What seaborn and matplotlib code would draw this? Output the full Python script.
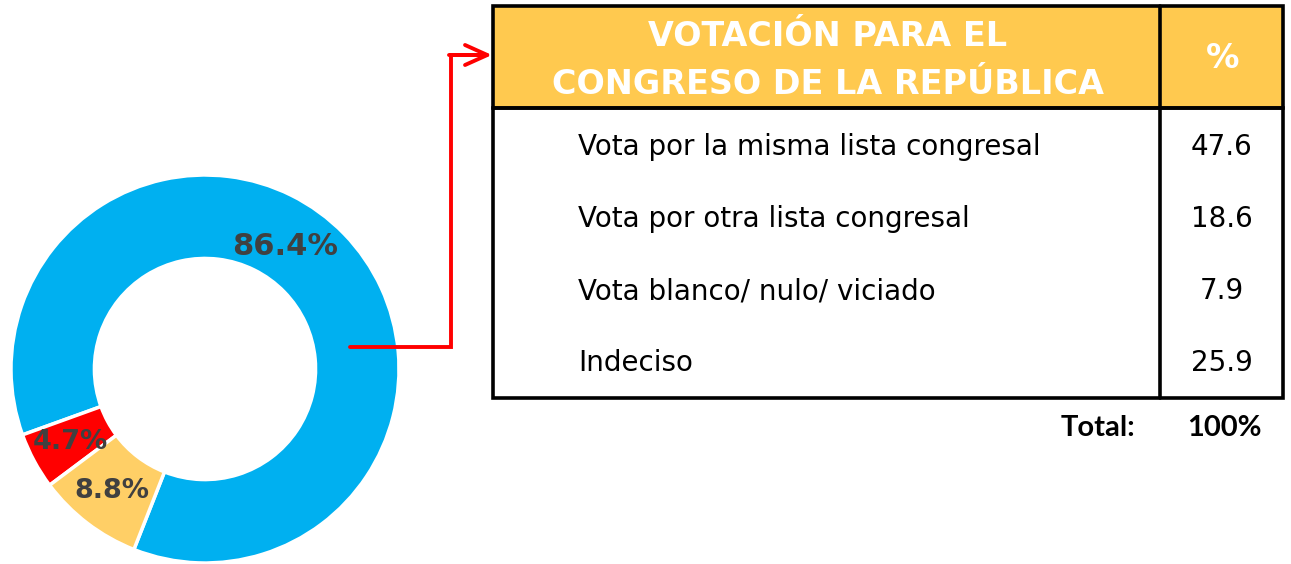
import matplotlib
matplotlib.use("Agg")
import matplotlib.pyplot as plt
import seaborn as sns
from matplotlib.patches import Rectangle
import numpy as np

sns.set_theme(style="white")

# --- data -------------------------------------------------------------
slice_values = [86.4, 4.7, 8.8]
slice_colors = ["#00B0F0", "#FF0000", "#FFCF66"]

header_lines = ["VOTACIÓN PARA EL", "CONGRESO DE LA REPÚBLICA"]
header_pct = "%"
row_labels = [
    "Vota por la misma lista congresal",
    "Vota por otra lista congresal",
    "Vota blanco/ nulo/ viciado",
    "Indeciso",
]
row_values = [47.6, 18.6, 7.9, 25.9]
total_label = "Total:"
total_value = "100%"

# --- figure -----------------------------------------------------------
W, H = 1291, 564
fig = plt.figure(figsize=(W / 100, H / 100), dpi=100)

label_color = "#404040"

# donut (center ~ (205, 369) px, outer radius ~194 px)
cx, cy, half = 205, 369, 200
ax_pie = fig.add_axes([(cx - half) / W, (H - cy - half) / H, 2 * half / W, 2 * half / H])
total = sum(slice_values)
wedges, texts, autotexts = ax_pie.pie(
    slice_values,
    colors=slice_colors,
    startangle=248.5,
    counterclock=True,
    autopct=lambda p: f"{p * total / 100:.1f}%",
    pctdistance=0.79,
    wedgeprops=dict(width=0.43, edgecolor="white", linewidth=2.5),
    textprops=dict(color=label_color, fontsize=19.5, fontweight="bold", family="DejaVu Sans"),
)
lim = half / 194
ax_pie.set_xlim(-lim, lim)
ax_pie.set_ylim(-lim, lim)
ax_pie.set_aspect("equal")
ax_pie.axis("off")

# big label was nudged off the wedge middle in the original
ang = np.deg2rad(57)
autotexts[0].set_position((0.755 * np.cos(ang), 0.755 * np.sin(ang)))
autotexts[0].set_fontsize(22)

# overlay in pixel coordinates for the table and the arrow
ax = fig.add_axes([0, 0, 1, 1])
ax.set_xlim(0, W)
ax.set_ylim(H, 0)
ax.axis("off")

left, right, divider = 493, 1283, 1160
top, head_bottom, bottom = 6, 108, 398
lw = 2.6

ax.add_patch(Rectangle((left, top), right - left, head_bottom - top,
                       facecolor="#FFC94F", edgecolor="black", lw=lw))
ax.add_patch(Rectangle((left, head_bottom), right - left, bottom - head_bottom,
                       facecolor="none", edgecolor="black", lw=lw))
ax.plot([divider, divider], [top, bottom], color="black", lw=lw)

# header
head_cx = (left + divider) / 2 + 1
for i, line in enumerate(header_lines):
    ax.text(head_cx, 46 + i * 48, line, ha="center", va="baseline", color="white",
            fontsize=24, fontweight="bold", family="DejaVu Sans")
ax.text((divider + right) / 2 + 1, 68, header_pct, ha="center", va="baseline", color="white",
        fontsize=24, fontweight="bold", family="DejaVu Sans")

# rows
for i, (lab, val) in enumerate(zip(row_labels, row_values)):
    y = 155 + i * 72
    ax.text(578, y, lab, ha="left", va="baseline", color="black",
            fontsize=20, family="DejaVu Sans")
    ax.text(1222, y, f"{val:.1f}", ha="center", va="baseline", color="black",
            fontsize=20, family="DejaVu Sans")

# total
ax.text(1135, 428, total_label, ha="right", va="center", color="black",
        fontsize=21, fontweight="bold", family=["Lato", "DejaVu Sans"])
ax.text(1224, 428, total_value, ha="center", va="center", color="black",
        fontsize=21, fontweight="bold", family=["Lato", "DejaVu Sans"])

# connector arrow from donut to table
ax.plot([350, 451, 451, 480], [347, 347, 55, 55], color="red", lw=2.8,
        solid_joinstyle="miter")
ax.annotate("", xy=(492, 55), xytext=(449, 55),
            arrowprops=dict(arrowstyle="->,head_length=0.8,head_width=0.36",
                            color="red", lw=2.8, shrinkA=0, shrinkB=0,
                            mutation_scale=20))

fig.savefig("out.png", dpi=100)
